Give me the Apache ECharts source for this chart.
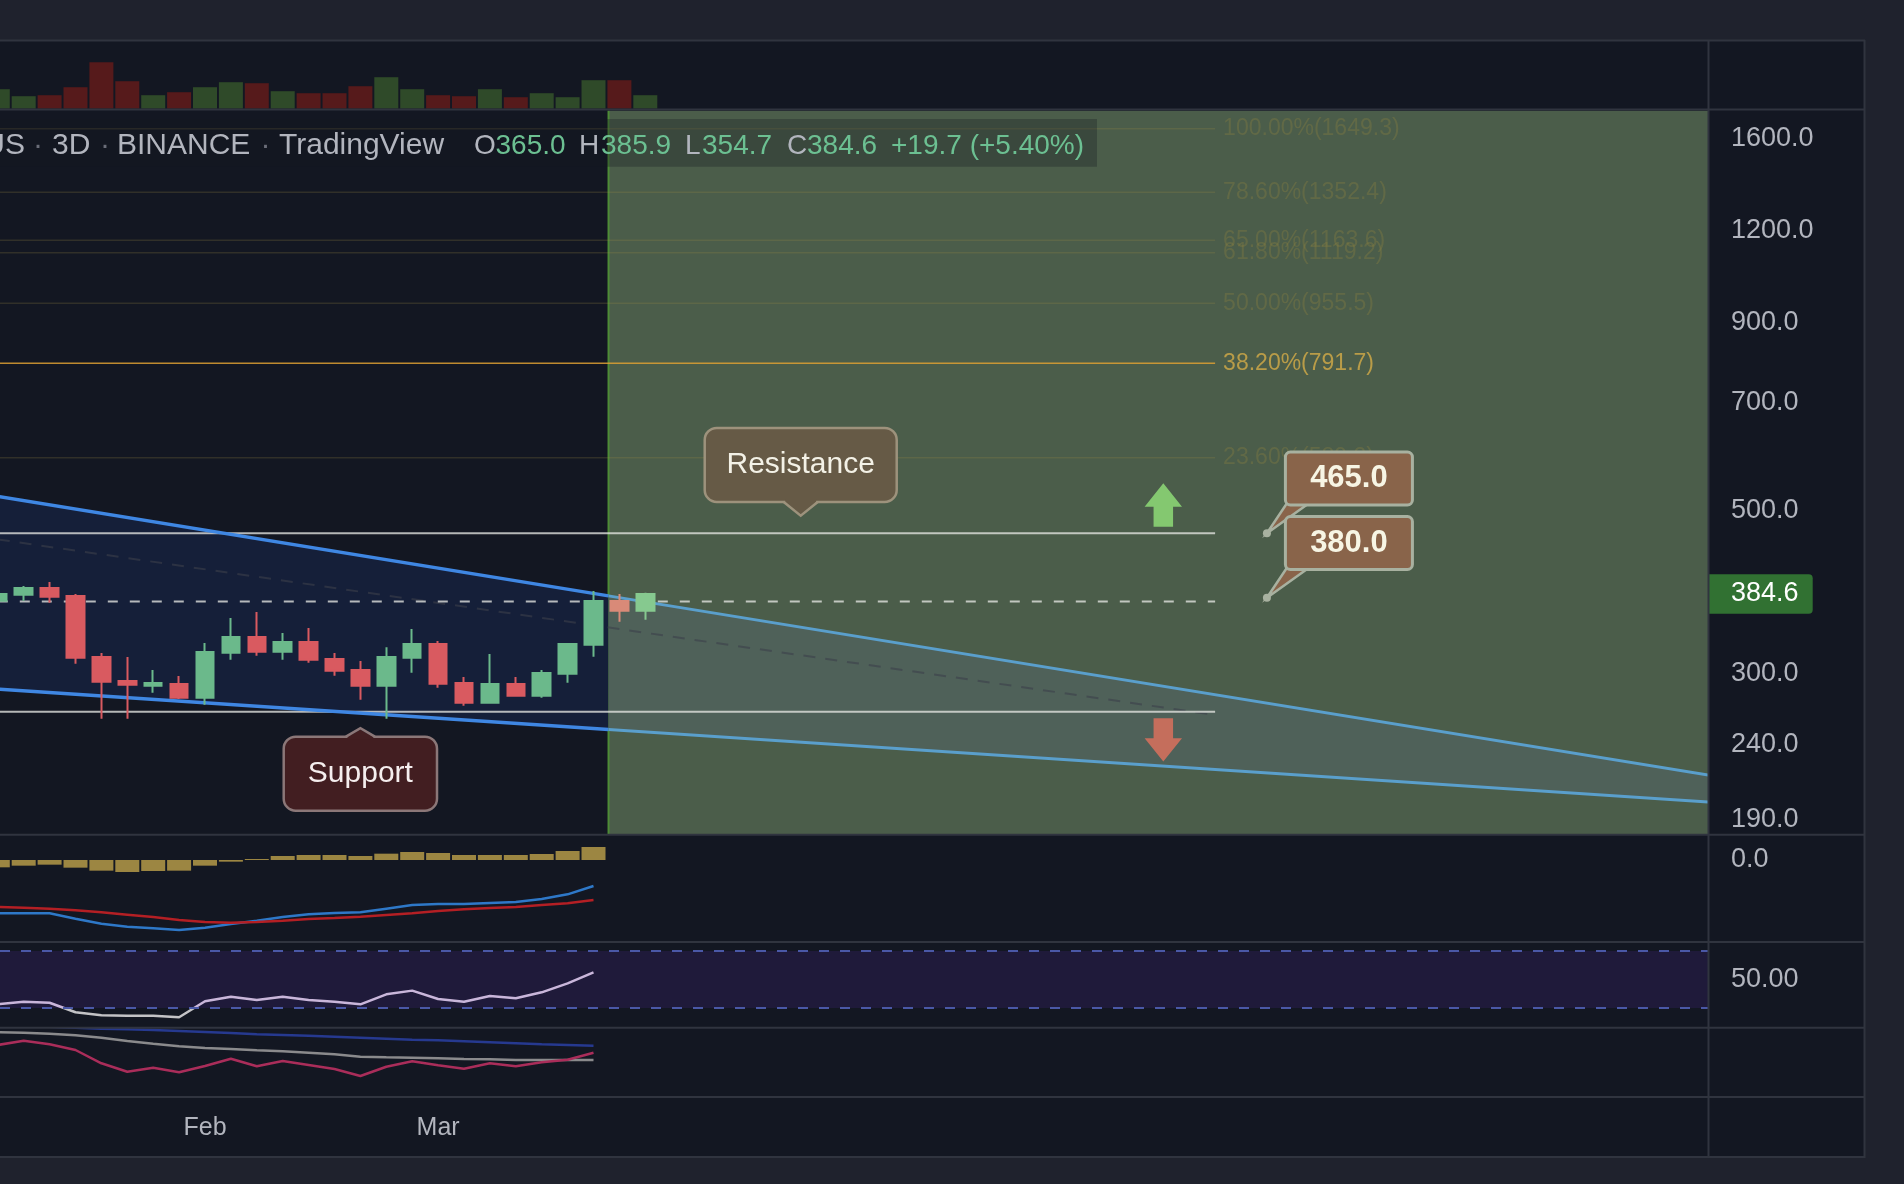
<!DOCTYPE html>
<html><head><meta charset="utf-8">
<script src="https://cdn.jsdelivr.net/npm/echarts@6/dist/echarts.min.js"></script>
<style>html,body{margin:0;padding:0;background:#1f222d;}#c{width:1904px;height:1184px;}</style>
</head><body><div id="c"></div>
<script>
// ---------------- DATA ----------------
const candleIdx = [-1,0,1,2,3,4,5,6,7,8,9,10,11,12,13,14,15,16,17,18,19,20,21,22,23,24];
const opens  = [376.5,383.6,391.8,382.1,315.7,292.8,288.6,290.1,277.9,320.0,336.1,320.9,330.9,313.7,303.1,288.6,315.0,328.8,291.0,273.6,290.1,279.7,299.7,328.1,376.1,365.0];
const highs  = [386.9,394.2,399.2,384.5,319.6,315.7,303.1,297.5,329.8,356.7,363.4,340.3,345.7,319.6,311.8,325.5,344.6,331.9,296.5,318.6,296.5,303.1,329.5,388.1,384.6,385.9];
const lows   = [374.9,376.5,374.2,309.1,260.3,260.3,282.3,276.8,271.9,313.0,317.0,313.0,310.1,297.7,276.2,260.3,300.6,286.8,271.1,272.8,278.8,277.9,291.3,315.9,352.6,354.7];
const closes = [384.6,391.8,381.2,315.0,292.2,289.5,291.0,277.9,320.6,336.1,320.9,330.9,313.0,302.4,288.6,315.7,328.8,290.4,273.6,290.1,279.7,300.3,328.8,376.1,364.9,384.6];
const volumes = [193,123,133,213,463,273,133,163,213,263,253,173,153,153,223,313,193,133,123,193,113,153,113,283,283,133];

// indicators (candle index -1 .. 22)
const indIdx = [-1,0,1,2,3,4,5,6,7,8,9,10,11,12,13,14,15,16,17,18,19,20,21,22];
const macdLine   = [-16.0,-16.0,-16.0,-17.6,-19.1,-20.0,-20.5,-21.0,-20.3,-19.2,-18.2,-17.1,-16.3,-15.9,-15.7,-14.6,-13.5,-13.2,-13.2,-12.9,-12.6,-11.7,-10.3,-7.8];
const signalLine = [-14.1,-14.3,-14.6,-15.1,-15.7,-16.4,-17.1,-18.0,-18.6,-18.8,-18.6,-18.2,-17.7,-17.4,-17.0,-16.5,-16.0,-15.3,-14.8,-14.4,-14.1,-13.5,-13.0,-12.0];
const macdHist   = [-2.2,-1.7,-1.4,-2.3,-3.2,-3.6,-3.3,-3.2,-1.7,-0.5,0.3,1.2,1.5,1.5,1.2,1.9,2.4,2.1,1.5,1.5,1.5,1.8,2.7,3.9];
const rsiValues  = [32.6,34.4,33.7,27.0,24.9,24.6,24.6,23.5,34.7,37.9,35.6,37.9,35.6,34.4,32.6,39.6,42.2,36.3,34.4,38.4,36.8,41.0,47.3,55.0];
const oscBlue    = [72.0,71.0,70.3,69.3,68.3,67.7,67.0,66.0,65.0,64.0,62.7,62.0,61.3,60.3,59.3,58.3,57.3,56.7,55.7,54.7,53.7,52.7,52.0,51.3];
const oscGray    = [64.7,64.3,63.3,61.7,59.3,56.0,53.3,50.7,49.0,48.0,46.7,45.7,44.3,42.7,40.3,39.7,39.3,38.7,38.0,37.7,37.0,37.0,37.0,37.0];
const oscMagenta = [52.0,56.3,52.7,47.0,33.7,25.3,29.3,24.7,31.0,38.3,30.7,36.0,32.0,28.0,21.0,30.3,35.7,31.7,28.3,33.7,30.7,34.7,37.3,44.3];

// axes / ticks
const priceTicks = [190,240,300,500,700,900,1200,1600];
const monthIdx = [7,16];
const monthNames = ['Feb','Mar'];

// drawings
const fibRatios = ['100.00%','78.60%','65.00%','61.80%','50.00%','38.20%','23.60%'];
const fibPrices = [1649.3,1352.4,1163.6,1119.2,955.5,791.7,589.2];
const drawSpan = [-1,46];
const hLinePrices = [465.0,375.5,266.0];
const hLineDashed = [false,true,false];
const upperTrend = [[-1,522.0],[66,215.4]];
const lowerTrend = [[-1,285.5],[66,199.5]];
const midTrend = [[-1,456.2],[46,263.3]];
const zoneStartIdx = 22.58;
const calloutTexts = ['Resistance','Support'];
const calloutIdx = [30,13];
const calloutPrices = [491.4,252.6];
const arrowIdx = [44,44];
const arrowPrices = [543.8,227.6];
const arrowDirs = ['up','down'];
const tagIdx = [48,48];
const tagPrices = [465.0,380.0];

// ---------------- CHART ----------------
const FONT = "'Liberation Sans', Arial, sans-serif";
const AXIS_TXT = '#b2b5be';
const X_MIN = -0.915, X_MAX = 65.03;
const lastI = closes.length - 1;

const chart = echarts.init(document.getElementById('c'), null, {renderer:'canvas', width:1904, height:1184});

const grids = [
  {left:0, width:1708, top:41, height:67.5},
  {left:0, width:1708, top:110.5, height:723.8},
  {left:0, width:1708, top:836, height:105},
  {left:0, width:1708, top:943, height:84},
  {left:0, width:1708, top:1028.5, height:68.5}
];
const xAxes = [0,1,2,3].map(g => ({type:'value', gridIndex:g, min:X_MIN, max:X_MAX, show:false}));
xAxes.push({type:'value', gridIndex:4, min:X_MIN, max:X_MAX, axisLine:{show:false}, axisTick:{show:false}, splitLine:{show:false},
  axisLabel:{customValues:monthIdx, formatter:v => monthNames[monthIdx.indexOf(v)] || '', color:AXIS_TXT, fontSize:25, fontFamily:FONT, margin:19}});
const hideParts = {axisLine:{show:false}, axisTick:{show:false}, splitLine:{show:false}};
const yAxes = [
  {type:'value', gridIndex:0, min:0, max:675, show:false},
  Object.assign({type:'log', logBase:10, gridIndex:1, min:181.25, max:1746.5, position:'right',
    axisLabel:{customValues:priceTicks, formatter:v => Number(v).toFixed(1), color:AXIS_TXT, fontSize:27, fontFamily:FONT, margin:23}}, hideParts),
  Object.assign({type:'value', gridIndex:2, min:-24.3, max:7.2, position:'right',
    axisLabel:{customValues:[0], formatter:v => Number(v).toFixed(1), color:AXIS_TXT, fontSize:27, fontFamily:FONT, margin:23}}, hideParts),
  Object.assign({type:'value', gridIndex:3, min:16.67, max:75.61, position:'right',
    axisLabel:{customValues:[50], formatter:v => Number(v).toFixed(2), color:AXIS_TXT, fontSize:27, fontFamily:FONT, margin:23}}, hideParts),
  {type:'value', gridIndex:4, min:0, max:68.5, show:false}
];

const isUp = i => closes[i] >= opens[i];
const series = [];

// volume
series.push({type:'bar', xAxisIndex:0, yAxisIndex:0, barWidth:24, silent:true,
  data: candleIdx.map((x,i) => ({value:[x, volumes[i]], itemStyle:{color: isUp(i) ? '#2f4a29' : '#561a1b'}}))});

// zone box
series.push({type:'custom', xAxisIndex:1, yAxisIndex:1, z:1, clip:true, silent:true,
  data:[[zoneStartIdx, closes[lastI]]],
  renderItem:(params, api) => {
    const cs = params.coordSys;
    const x0 = api.coord([api.value(0), api.value(1)])[0];
    return {type:'group', children:[
      {type:'rect', shape:{x:x0, y:cs.y, width:cs.x + cs.width - x0, height:cs.height}, style:{fill:'#4b5d4a'}},
      {type:'line', shape:{x1:x0, y1:cs.y, x2:x0, y2:cs.y + cs.height}, style:{stroke:'#4d8c36', lineWidth:2}}
    ]};
  }});

const lerpAt = (p, q, x) => [x, p[1] + (q[1] - p[1]) * (x - p[0]) / (q[0] - p[0])];

// channel fill
series.push({type:'custom', xAxisIndex:1, yAxisIndex:1, z:2, clip:true, silent:true,
  data:[upperTrend[0]],
  renderItem:(params, api) => {
    const xs = api.coord([zoneStartIdx, upperTrend[0][1]])[0];
    const u0 = api.coord(upperTrend[0]), u1 = api.coord(upperTrend[1]);
    const l0 = api.coord(lowerTrend[0]), l1 = api.coord(lowerTrend[1]);
    const us = lerpAt(u0, u1, xs), ls = lerpAt(l0, l1, xs);
    return {type:'group', children:[
      {type:'polygon', shape:{points:[u0, us, ls, l0]}, style:{fill:'#151f39'}},
      {type:'polygon', shape:{points:[us, u1, l1, ls]}, style:{fill:'#4f6159'}}
    ]};
  }});

// fib levels
series.push({type:'custom', xAxisIndex:1, yAxisIndex:1, z:3, clip:true, silent:true,
  data: fibPrices.map((p,i) => [drawSpan[0], p, i]),
  renderItem:(params, api) => {
    const p = api.value(1), i = api.value(2);
    const a = api.coord([drawSpan[0], p]), b = api.coord([drawSpan[1], p]);
    const hi = fibRatios[i] === '38.20%';
    return {type:'group', children:[
      {type:'line', shape:{x1:a[0], y1:a[1], x2:b[0], y2:b[1]}, style:{stroke: hi ? 'rgba(222,160,50,0.85)' : 'rgba(160,140,70,0.22)', lineWidth: 1.5}},
      {type:'text', x:b[0] + 8, y:b[1], style:{text: fibRatios[i] + '(' + p.toFixed(1) + ')', fill: hi ? '#b99c48' : 'rgba(135,125,65,0.38)', font:'23px ' + FONT, align:'left', verticalAlign:'middle'}}
    ]};
  }});

// horizontal levels + middle dashed line
series.push({type:'custom', xAxisIndex:1, yAxisIndex:1, z:3, clip:true, silent:true,
  data: hLinePrices.map((p,i) => [drawSpan[0], p, i]),
  renderItem:(params, api) => {
    const p = api.value(1), i = api.value(2);
    const a = api.coord([drawSpan[0], p]), b = api.coord([drawSpan[1], p]);
    const children = [{type:'line', shape:{x1:a[0], y1:a[1], x2:b[0], y2:b[1]},
      style:{stroke:'rgba(228,230,225,0.78)', lineWidth:2, lineDash: hLineDashed[i] ? [10,12] : null}}];
    if (i === 0) {
      const m0 = api.coord(midTrend[0]), m1 = api.coord(midTrend[1]);
      children.push({type:'line', shape:{x1:m0[0], y1:m0[1], x2:m1[0], y2:m1[1]}, style:{stroke:'rgba(60,63,75,0.6)', lineWidth:2, lineDash:[12,10]}});
    }
    return {type:'group', children};
  }});

// trend lines
series.push({type:'custom', xAxisIndex:1, yAxisIndex:1, z:4, clip:true, silent:true,
  data:[upperTrend[0]],
  renderItem:(params, api) => {
    const xs = api.coord([zoneStartIdx, upperTrend[0][1]])[0];
    const out = [];
    [upperTrend, lowerTrend].forEach(t => {
      const p0 = api.coord(t[0]), p1 = api.coord(t[1]);
      const ps = lerpAt(p0, p1, xs);
      out.push({type:'line', shape:{x1:p0[0], y1:p0[1], x2:ps[0], y2:ps[1]}, style:{stroke:'#3f87e3', lineWidth:3.5}});
      out.push({type:'line', shape:{x1:ps[0], y1:ps[1], x2:p1[0], y2:p1[1]}, style:{stroke:'#5a9fcc', lineWidth:3}});
    });
    return {type:'group', children:out};
  }});

// candles
const inZoneUp = '#86c98f', inZoneDown = '#d98a78';
series.push({type:'candlestick', xAxisIndex:1, yAxisIndex:1, z:5, barWidth:18, silent:true,
  encode:{x:0, y:[1,2,3,4]},
  itemStyle:{color:'#6bb98b', color0:'#d95a60', borderColor:'#6bb98b', borderColor0:'#d95a60', borderWidth:2},
  data: candleIdx.map((x,i) => {
    const item = {value:[x, opens[i], closes[i], lows[i], highs[i]]};
    if (x > zoneStartIdx) {
      const c = isUp(i) ? inZoneUp : inZoneDown;
      item.itemStyle = {color:c, color0:c, borderColor:c, borderColor0:c};
    }
    return item;
  })});

// arrows
series.push({type:'custom', xAxisIndex:1, yAxisIndex:1, z:6, clip:false, silent:true,
  data: arrowIdx.map((x,i) => [x, arrowPrices[i], i]),
  renderItem:(params, api) => {
    const i = api.value(2);
    const t = api.coord([api.value(0), api.value(1)]);
    const s = arrowDirs[i] === 'up' ? 1 : -1;
    const pts = [[0,0],[18.7,23.4],[9.75,23.4],[9.75,43.4],[-9.75,43.4],[-9.75,23.4],[-18.7,23.4]]
      .map(q => [t[0] + q[0], t[1] + s * q[1]]);
    return {type:'polygon', shape:{points:pts}, style:{fill: s > 0 ? '#84c870' : '#c56e5c'}};
  }});

// callouts
series.push({type:'custom', xAxisIndex:1, yAxisIndex:1, z:6, clip:false, silent:true,
  data: calloutIdx.map((x,i) => [x, calloutPrices[i], i]),
  renderItem:(params, api) => {
    const i = api.value(2);
    const t = api.coord([api.value(0), api.value(1)]);
    const res = i === 0;
    const fill = res ? '#665a46' : '#421e21';
    const stroke = res ? '#9d927c' : '#8b7778';
    const bx0 = res ? -96 : -76.7, bx1 = res ? 96 : 76.6;
    const by0 = res ? -87.7 : 8.4, by1 = res ? -13.7 : 82.4;
    const hw = res ? 17 : 14.5;
    const base = res ? by1 : by0;
    const dir = res ? -1 : 1;
    return {type:'group', x:t[0], y:t[1], children:[
      {type:'rect', shape:{x:bx0, y:by0, width:bx1 - bx0, height:by1 - by0, r:12}, style:{fill, stroke, lineWidth:2.5}},
      {type:'polygon', shape:{points:[[-hw + 1.5, base + dir * 3],[-hw + 1.5, base],[0, 1.5 * (res ? -1 : 1)],[hw - 1.5, base],[hw - 1.5, base + dir * 3]]}, style:{fill}},
      {type:'polyline', shape:{points:[[-hw, base],[0,0],[hw, base]]}, style:{stroke, lineWidth:2.5, fill:null}},
      {type:'text', x:(bx0 + bx1) / 2, y:(by0 + by1) / 2, style:{text:calloutTexts[i], fill: res ? '#f3f1e6' : '#f5eeee', font:'30px ' + FONT, align:'center', verticalAlign:'middle'}}
    ]};
  }});

// price tags (465.0 / 380.0)
series.push({type:'custom', xAxisIndex:1, yAxisIndex:1, z:7, clip:false, silent:true,
  data: tagIdx.map((x,i) => [x, tagPrices[i], i]),
  renderItem:(params, api) => {
    const t = api.coord([api.value(0), api.value(1)]);
    const border = '#a8b1a0', fill = '#89644a';
    return {type:'group', x:t[0], y:t[1], children:[
      {type:'polygon', shape:{points:[[0,0],[20,-30],[42,-30]]}, style:{fill, stroke:border, lineWidth:2.5}},
      {type:'circle', shape:{cx:0, cy:0, r:4}, style:{fill:border}},
      {type:'rect', shape:{x:18.5, y:-81.3, width:127, height:53, r:5}, style:{fill, stroke:border, lineWidth:3}},
      {type:'text', x:82, y:-54.8, style:{text: api.value(1).toFixed(1), fill:'#f7f5e4', font:'bold 31px ' + FONT, align:'center', verticalAlign:'middle'}}
    ]};
  }});

// last price tag on axis
series.push({type:'custom', xAxisIndex:1, yAxisIndex:1, z:8, clip:false, silent:true,
  data:[[candleIdx[lastI], closes[lastI]]],
  renderItem:(params, api) => {
    const cs = params.coordSys;
    const y = api.coord([api.value(0), api.value(1)])[1];
    const x = cs.x + cs.width;
    return {type:'group', children:[
      {type:'rect', shape:{x:x, y:y - 19.7, width:104.7, height:39.4, r:[0,4,4,0]}, style:{fill:'#317132'}},
      {type:'text', x:x + 23, y:y, style:{text: api.value(1).toFixed(1), fill:'#ffffff', font:'27px ' + FONT, align:'left', verticalAlign:'middle'}}
    ]};
  }});

// MACD
series.push({type:'bar', xAxisIndex:2, yAxisIndex:2, barWidth:24, silent:true, itemStyle:{color:'#9c8642'},
  data: indIdx.map((x,i) => [x, macdHist[i]])});
series.push({type:'line', xAxisIndex:2, yAxisIndex:2, showSymbol:false, silent:true, lineStyle:{color:'#2e78c8', width:2.5},
  data: indIdx.map((x,i) => [x, macdLine[i]])});
series.push({type:'line', xAxisIndex:2, yAxisIndex:2, showSymbol:false, silent:true, lineStyle:{color:'#b41f24', width:2.5},
  data: indIdx.map((x,i) => [x, signalLine[i]])});

// RSI
const rsiSeriesIndex = series.length;
series.push({type:'line', xAxisIndex:3, yAxisIndex:3, showSymbol:false, silent:true, lineStyle:{width:2.5},
  data: indIdx.map((x,i) => [x, rsiValues[i]]),
  markArea:{silent:true, itemStyle:{color:'#1f1a3a'}, data:[[{yAxis:70},{yAxis:30}]]},
  markLine:{silent:true, symbol:['none','none'], label:{show:false}, lineStyle:{color:'#4a58a6', type:[10,11], width:2},
    data:[{yAxis:70},{yAxis:30}]}});

// oscillator pane
series.push({type:'line', xAxisIndex:4, yAxisIndex:4, showSymbol:false, silent:true, lineStyle:{color:'#26398f', width:2.5},
  data: indIdx.map((x,i) => [x, oscBlue[i]])});
series.push({type:'line', xAxisIndex:4, yAxisIndex:4, showSymbol:false, silent:true, lineStyle:{color:'#8a8a8c', width:2.5},
  data: indIdx.map((x,i) => [x, oscGray[i]])});
series.push({type:'line', xAxisIndex:4, yAxisIndex:4, showSymbol:false, silent:true, lineStyle:{color:'#aa2d5a', width:2.5},
  data: indIdx.map((x,i) => [x, oscMagenta[i]])});

// legend text (built from last candle)
const chg = closes[lastI] - closes[lastI - 1];
const pct = chg / closes[lastI - 1] * 100;
const TXT = '#b2b5be', DOT = '#6a6d78', GRN = '#6cc092';
const legendParts = [
  ['US',25,'right',TXT],['·',38,'center',DOT],['3D',52,'left',TXT],['·',105,'center',DOT],['BINANCE',117,'left',TXT],
  ['·',265.6,'center',DOT],['TradingView',279,'left',TXT],
  ['O',474,'left',TXT],[opens[lastI].toFixed(1),495.5,'left',GRN],
  ['H',579,'left',TXT],[highs[lastI].toFixed(1),601,'left',GRN],
  ['L',685,'left',TXT],[lows[lastI].toFixed(1),702,'left',GRN],
  ['C',787,'left',TXT],[closes[lastI].toFixed(1),807,'left',GRN],
  [(chg >= 0 ? '+' : '') + chg.toFixed(1) + ' (' + (pct >= 0 ? '+' : '') + pct.toFixed(2) + '%)',891,'left',GRN]
];

const graphics = [
  {type:'rect', z:-100, silent:true, shape:{x:0, y:40, width:1864, height:1117}, style:{fill:'#131722'}},
  {type:'rect', z:50, silent:true, shape:{x:0, y:119, width:1097, height:47.7}, style:{fill:'rgba(19,23,34,0.3)'}}
];
legendParts.forEach(p => graphics.push({type:'text', z:51, silent:true, x:p[1], y:146,
  style:{text:p[0], fill:p[3], font:(p[1] < 470 ? '30px ' : '28px ') + FONT, align:p[2], verticalAlign:'middle', textAlign:p[2], textVerticalAlign:'middle'}}));
[40.5,109.5,834.8,942,1027.8,1097,1157].forEach(y => graphics.push({type:'line', z:100, silent:true,
  shape:{x1:0, y1:y, x2:1865, y2:y}, style:{stroke:'#30343f', lineWidth:2}}));
[1708.5,1864.5].forEach(x => graphics.push({type:'line', z:100, silent:true,
  shape:{x1:x, y1:40, x2:x, y2:1158}, style:{stroke:'#30343f', lineWidth:2}}));

chart.setOption({
  backgroundColor:'#1f222d',
  animation:false,
  tooltip:{show:false},
  grid:grids,
  xAxis:xAxes,
  yAxis:yAxes,
  visualMap:[{type:'piecewise', show:false, seriesIndex:rsiSeriesIndex, dimension:1,
    pieces:[{min:0, max:30, color:'#c3c3c6'},{min:30, max:100, color:'#c9b6da'}]}],
  series:series,
  graphic:{elements:graphics}
});
</script>
</body></html>
